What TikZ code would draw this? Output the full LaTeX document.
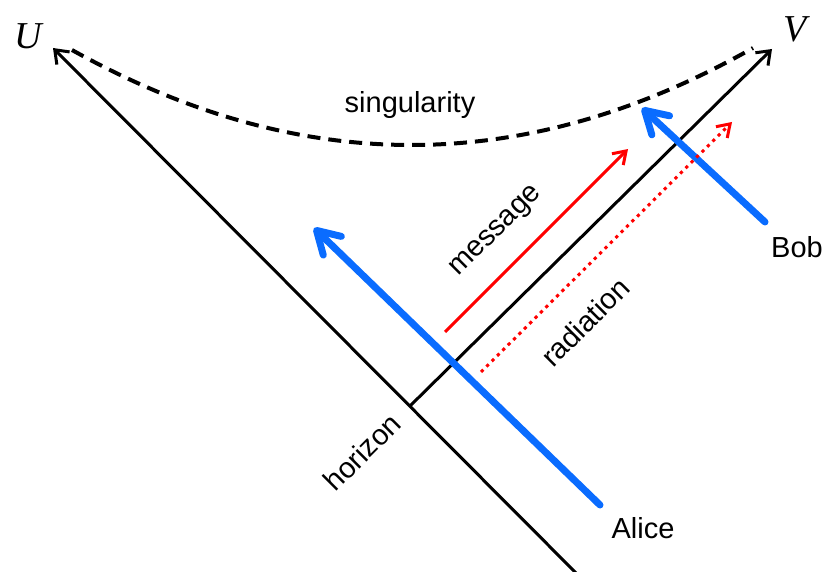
\documentclass[tikz,border=0pt]{standalone}
\usepackage{fontspec}
\setmainfont{Liberation Sans}
\newfontfamily\axisfont{Liberation Serif}
\usepackage{xcolor}
\usepackage{tikz}
\usetikzlibrary{arrows.meta, positioning, calc}

\definecolor{obsblue}{RGB}{10,108,255}

\begin{document}
\begin{tikzpicture}[
    x={(0.5pt,0)}, y={(0,-0.5pt)},
    axis/.style={-{Straight Barb[length=6pt, width=9pt]}, line width=1.5pt},
    worldline/.style={-{Straight Barb[length=11pt, width=13pt, round]}, line width=3.5pt, draw=obsblue, line cap=round},
    signal/.style={-{Straight Barb[length=6pt, width=8pt]}, line width=1.5pt, draw=red},
    lbl/.style={font=\fontsize{14.5}{17}\selectfont, inner sep=0pt},
    axlbl/.style={font=\fontsize{19}{22}\selectfont\axisfont\itshape, inner sep=0pt}
]
\useasboundingbox (0,0) rectangle (824,572);

% Null axes
\coordinate (ubot) at (580,577);
\coordinate (utip) at (53,48);
\coordinate (hstart) at (410,406);
\coordinate (vtip) at (772,49);
\draw[axis] (ubot) -- (utip);
\draw[axis] (hstart) -- (vtip);
\node[axlbl] (ulabel) at (28,36) {U};
\node[axlbl] (vlabel) at (795,29) {V};

% Singularity
\coordinate (sleft) at (72,50);
\coordinate (sright) at (753,48);
\draw[line width=2pt, dash pattern=on 6.5pt off 4pt] (sleft) .. controls (300,177) and (525,177) .. (sright);
\node[lbl] (sing) at (410,105) {singularity};

% Observers
\coordinate (alice0) at (600,505);
\coordinate (alice1) at (314,228);
\coordinate (bob0) at (765,222);
\coordinate (bob1) at (642,108);
\draw[worldline] (alice0) -- (alice1);
\draw[worldline] (bob0) -- (bob1);
\node[lbl] (alice) at (643,528) {Alice};
\node[lbl] (bob) at (797,247) {Bob};

% Signals
\coordinate (msg0) at (445,332);
\coordinate (msg1) at (628,149);
\coordinate (rad0) at (481,372);
\coordinate (rad1) at (732,122);
\draw[signal] (msg0) -- (msg1);
\draw[signal, dash pattern=on 1.6pt off 2.2pt] (rad0) -- (rad1);
\node[lbl, rotate=45] (message) at (497,232) {message};
\node[lbl, rotate=45] (radiation) at (585,322) {radiation};
\node[lbl, rotate=45] (horizon) at (362,452) {horizon};
\end{tikzpicture}
\end{document}
